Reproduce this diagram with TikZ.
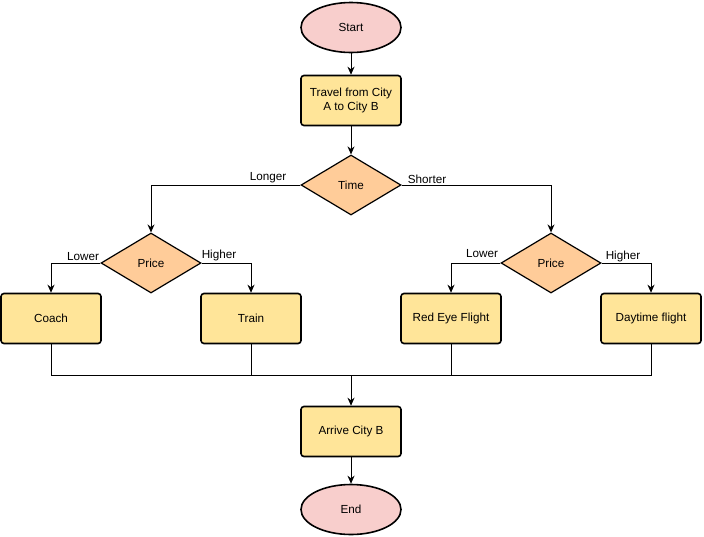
\documentclass[tikz,border=0pt]{standalone}
\usepackage{fontspec}
\setmainfont{Liberation Sans}
\usetikzlibrary{shapes.geometric,arrows.meta}
\definecolor{termfill}{HTML}{F8CECC}
\definecolor{procfill}{HTML}{FFE599}
\definecolor{decfill}{HTML}{FFCC99}
\begin{document}
\begin{tikzpicture}[x=1pt,y=-1pt,
  font=\fontsize{11.7}{14}\selectfont,
  term/.style={ellipse,draw,line width=1.6pt,fill=termfill,minimum width=100pt,minimum height=50pt,inner sep=0pt},
  proc/.style={rectangle,draw,line width=1.6pt,rounded corners=3pt,fill=procfill,minimum width=100pt,minimum height=50pt,inner sep=2pt,align=center},
  dec/.style={diamond,draw,line width=1.2pt,fill=decfill,minimum width=100pt,minimum height=60pt,aspect=1.667,inner sep=0pt},
  conn/.style={line width=0.9pt,-{Stealth[length=8pt,width=7pt]}},
  plain/.style={line width=0.9pt},
  lbl/.style={inner sep=1pt}]
\useasboundingbox (0,0) rectangle (704,536);
\node[term] (start) at (351,27.5) {Start};
\node[proc] (travel) at (351,100.5) {Travel from City\\A to City B};
\node[dec] (time) at (351,185) {Time};
\node[dec] (priceL) at (151,263) {Price};
\node[dec] (priceR) at (551,263) {Price};
\node[proc] (coach) at (51,318.5) {Coach};
\node[proc] (train) at (251,318.5) {Train};
\node[proc] (redeye) at (451,318.5) {Red Eye Flight};
\node[proc] (daytime) at (651,318.5) {Daytime flight};
\node[proc] (arrive) at (351,431.5) {Arrive City B};
\node[term] (end) at (351,509.5) {End};
\coordinate (merge) at (351,375);

\draw[conn] (start) -- (travel);
\draw[conn] (travel) -- (time);
\draw[conn] (time.west) -| (priceL.north);
\draw[conn] (time.east) -| (priceR.north);
\draw[conn] (priceL.west) -| (coach.north);
\draw[conn] (priceL.east) -| (train.north);
\draw[conn] (priceR.west) -| (redeye.north);
\draw[conn] (priceR.east) -| (daytime.north);
\draw[plain] (coach.south) |- (merge);
\draw[plain] (train.south) |- (merge);
\draw[plain] (redeye.south) |- (merge);
\draw[plain] (daytime.south) |- (merge);
\draw[conn] (merge) -- (arrive);
\draw[conn] (arrive) -- (end);

\node[lbl] (lLonger) at (268,178) {Longer};
\node[lbl] (lShorter) at (427,179) {Shorter};
\node[lbl] (lLowerL) at (83,257) {Lower};
\node[lbl] (lHigherL) at (219,255) {Higher};
\node[lbl] (lLowerR) at (482,254) {Lower};
\node[lbl] (lHigherR) at (623,256) {Higher};
\end{tikzpicture}
\end{document}
